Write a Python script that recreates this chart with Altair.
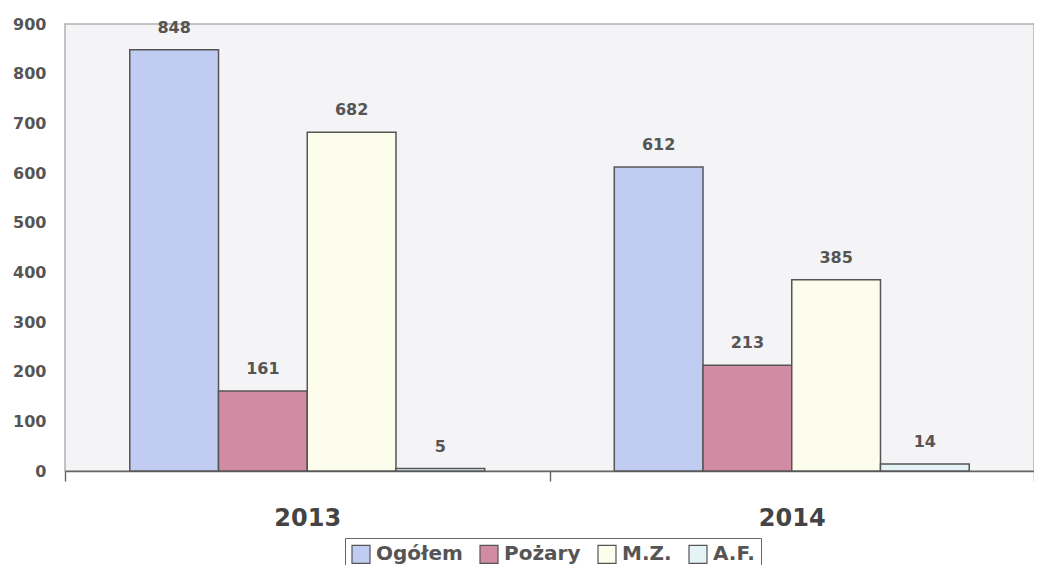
import altair as alt
import pandas as pd

years = ["2013", "2014"]
series = ["Ogółem", "Pożary", "M.Z.", "A.F."]
values_2013 = [848, 161, 682, 5]
values_2014 = [612, 213, 385, 14]
colors = ["#c0ccf2", "#d18ba2", "#fdfdee", "#e4f3f6"]

rows = []
for s, v in zip(series, values_2013):
    rows.append({"rok": "2013", "seria": s, "wartosc": v})
for s, v in zip(series, values_2014):
    rows.append({"rok": "2014", "seria": s, "wartosc": v})
df = pd.DataFrame(rows)

FONT = "DejaVu Sans"

x = alt.X("rok:N", sort=years, title=None,
          scale=alt.Scale(paddingInner=0, paddingOuter=0),
          axis=alt.Axis(labelAngle=0, labelFont=FONT, labelFontSize=24, labelFontWeight="bold",
                        labelColor="#444444", labelPadding=25, tickBand="extent", tickSize=10,
                        tickColor="#666666", domainColor="#666666", domainWidth=1.6, tickWidth=1.4))
y = alt.Y("wartosc:Q", title=None,
          scale=alt.Scale(domain=[0, 900], nice=False),
          axis=alt.Axis(values=list(range(0, 901, 100)), grid=False, ticks=False, domain=False,
                        labelFont=FONT, labelFontSize=16, labelFontWeight="bold",
                        labelColor="#555555", labelPadding=19))
xo = alt.XOffset("seria:N", sort=series, scale=alt.Scale(paddingInner=0, paddingOuter=0.73))

bars = alt.Chart(df).mark_bar(stroke="#555555", strokeWidth=1.5).encode(
    x=x, y=y, xOffset=xo,
    color=alt.Color("seria:N", sort=series, scale=alt.Scale(domain=series, range=colors),
                    legend=alt.Legend(title=None, orient="none", legendX=280, legendY=514,
                                      direction="horizontal", symbolType="square", symbolSize=324,
                                      symbolStrokeColor="#555555", symbolStrokeWidth=1.2,
                                      labelFont=FONT, labelFontSize=20, labelFontWeight="bold",
                                      labelColor="#555555", columnPadding=14, labelOffset=5,
                                      strokeColor="#666666", fillColor="#ffffff", padding=6,
                                      symbolOpacity=1)),
)

labels = alt.Chart(df).mark_text(baseline="bottom", dy=-14, font=FONT, fontSize=16,
                                 fontWeight="bold", color="#555555").encode(
    x=x, y=y, xOffset=xo, text="wartosc:Q")

chart = alt.layer(bars, labels).properties(
    width=969, height=447,
    autosize=alt.AutoSizeParams(type="none"),
    padding={"left": 57, "top": 16, "right": 0, "bottom": 94},
    background="#ffffff",
).configure_view(fill="#f4f4f6", stroke="#b0b0b0", strokeWidth=1.5)

chart.save("out.html", embed_options={"renderer": "svg", "actions": False})
